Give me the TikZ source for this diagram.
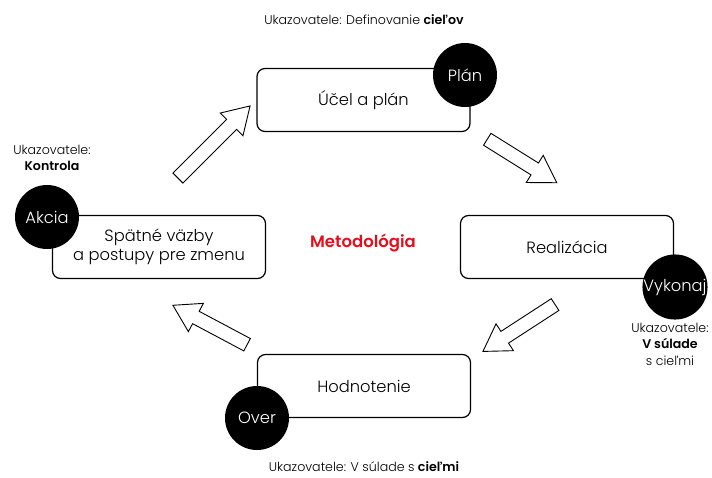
\documentclass[tikz,border=0pt]{standalone}
\usepackage{fontspec}
\setmainfont{Poppins}[UprightFont={* Light}, BoldFont={* SemiBold}]
\usepackage{xcolor}
\usepackage{tikz}
\usetikzlibrary{positioning,calc}

\definecolor{metred}{HTML}{E3101B}

\tikzset{
    stepbox/.style={draw, rounded corners=8pt, line width=1.2pt, minimum width=213pt, minimum height=63pt, font=\fontsize{16.3}{19}\selectfont, align=center},
    badge/.style={circle, fill=black, text=white, minimum size=64pt, inner sep=0pt, font=\fontsize{16.3}{19}\selectfont},
    note/.style={font=\fontsize{12.6}{16.5}\selectfont, align=center},
    pics/hollowarrow/.style={code={
        \draw[line width=0.9pt, fill=white] (-#1/2,-7) -- (#1/2-26,-7) -- (#1/2-26,-16) -- (#1/2,0)
            -- (#1/2-26,16) -- (#1/2-26,7) -- (-#1/2,7) -- cycle;
    }}
}

\begin{document}
\begin{tikzpicture}[x=1pt,y=-1pt]
    \useasboundingbox (0,0) rectangle (712,477);

    % Boxes
    \node[stepbox] (ucel) at (363.5,100) {Účel a plán};
    \node[stepbox] (spat) at (159,247) {Spätné väzby\\a postupy pre zmenu};
    \node[stepbox] (real) at (567,247) {Realizácia};
    \node[stepbox] (hodn) at (364,386) {Hodnotenie};

    % Badges
    \node[badge] (plan) at (465,75) {Plán};
    \node[badge] (akcia) at (47,217) {Akcia};
    \node[badge] (vykonaj) at (675,287) {Vykonaj};
    \node[badge] (over) at (257,418) {Over};

    % Center
    \node[font=\fontsize{16.5}{19}\selectfont\bfseries, text=metred] (meto) at (363,243) {Metodológia};

    % Indicators
    \node[note] (n1) at (364,20) {Ukazovatele: Definovanie \textbf{cieľov}};
    \node[note] (n2) at (52,158) {Ukazovatele:\\\textbf{Kontrola}};
    \node[note] (n3) at (670,344) {Ukazovatele:\\\textbf{V súlade}\\s cieľmi};
    \node[note] (n4) at (364,467) {Ukazovatele: V súlade s \textbf{cieľmi}};

    % Arrows
    \pic[rotate=45] (a1) at (214,142) {hollowarrow=102};
    \pic[rotate=-32] (a2) at (522,161) {hollowarrow=82};
    \pic[rotate=-147] (a3) at (519,328) {hollowarrow=86};
    \pic[rotate=152] (a4) at (210,325) {hollowarrow=84};
\end{tikzpicture}
\end{document}
